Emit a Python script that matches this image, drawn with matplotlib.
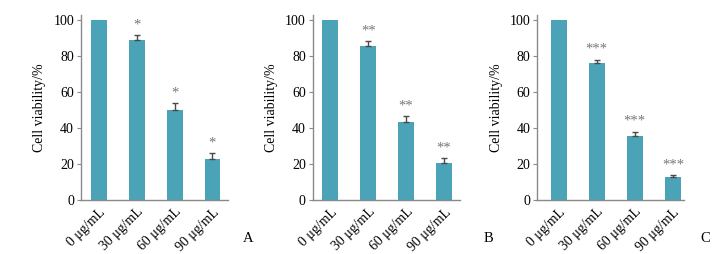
import numpy as np
import matplotlib
matplotlib.use("Agg")
from matplotlib import pyplot as plt

plt.rcParams['font.family'] = ['Liberation Serif', 'DejaVu Serif']

# data
doses = ['0 μg/mL', '30 μg/mL', '60 μg/mL', '90 μg/mL']
viab_A = [100, 89, 50, 23]
err_A = [0, 2.5, 4, 3]
viab_B = [100, 85.5, 43.5, 20.5]
err_B = [0, 3, 3, 3]
viab_C = [100, 76, 35.5, 13]
err_C = [0, 2, 2.5, 1]
stars_A = ['', '*', '*', '*']
stars_B = ['', '**', '**', '**']
stars_C = ['', '***', '***', '***']
panel_labels = ['A', 'B', 'C']

bar_color = '#4aa3b6'
spine_color = '#8a8a8a'

fig = plt.figure(figsize=(7.25, 2.54), dpi=100)

lefts = [81/725, 312.7/725, 537.3/725]
xlims = [(-0.47, 3.41), (-0.46, 3.41), (-0.56, 3.30)]
vals = [viab_A, viab_B, viab_C]
errs = [err_A, err_B, err_C]
stars = [stars_A, stars_B, stars_C]
letter_x = [248/725, 488/725, 705/725]

for i in range(3):
    ax = fig.add_axes([lefts[i], 54/254, 147/725, 185/254])
    x = np.arange(len(doses))
    ax.bar(x, vals[i], width=0.42, color=bar_color)
    ax.errorbar(x[1:], vals[i][1:], yerr=[np.zeros(3), errs[i][1:]], fmt='none',
                ecolor='#4a4a4a', elinewidth=1.0, capsize=2.5, capthick=1.0)
    for xi, v, e, s in zip(x, vals[i], errs[i], stars[i]):
        if s:
            ax.text(xi, v + e + 2.0, s, ha='center', va='bottom', fontsize=10.5, color='#777777')
    ax.set_xlim(*xlims[i])
    ax.set_ylim(0, 102.8)
    ax.set_yticks([0, 20, 40, 60, 80, 100])
    ax.set_xticks(x)
    ax.set_xticklabels(doses, rotation=45, ha='right', va='top', rotation_mode='anchor', fontsize=10)
    ax.tick_params(axis='x', length=0, pad=4)
    ax.tick_params(axis='y', length=3, width=0.8, color=spine_color, labelsize=10, pad=2)
    for sp in ['top', 'right']:
        ax.spines[sp].set_visible(False)
    for sp in ['left', 'bottom']:
        ax.spines[sp].set_color(spine_color)
        ax.spines[sp].set_linewidth(1.0)
    ax.set_ylabel('Cell viability/%', fontsize=10, labelpad=5)
    fig.text(letter_x[i], 1 - 238/254, panel_labels[i], ha='center', va='center', fontsize=10.5)

plt.savefig('out.png', dpi=100)
